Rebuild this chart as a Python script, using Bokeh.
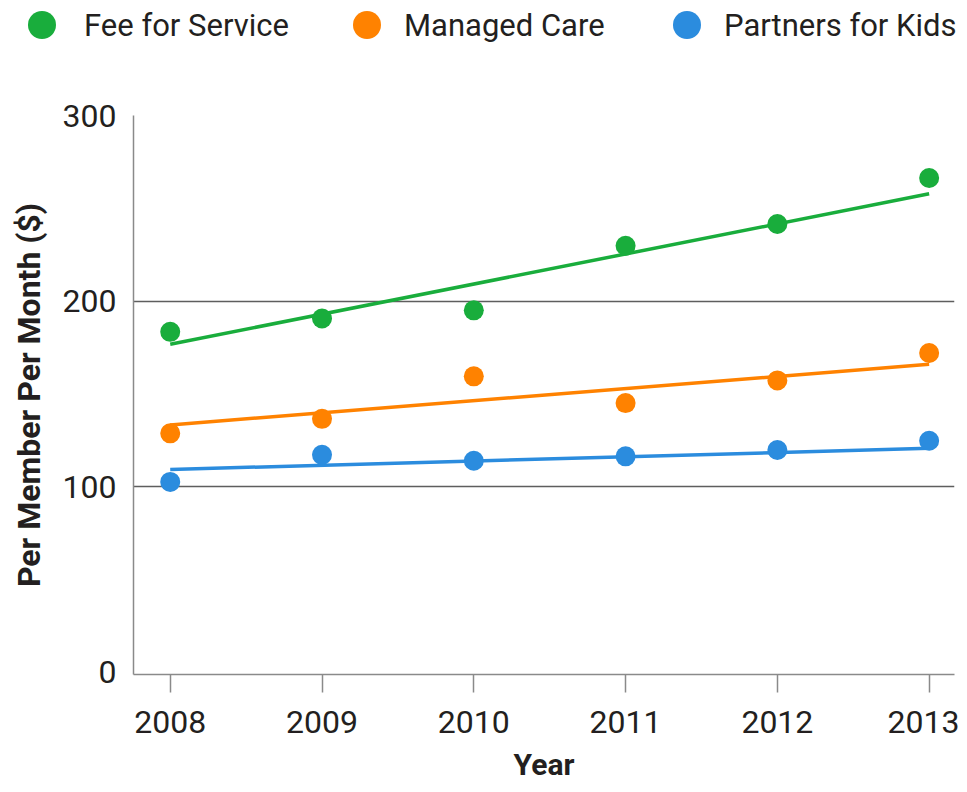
from bokeh.plotting import figure
from bokeh.models import Range1d, FixedTicker, Div
from bokeh.layouts import column
from bokeh.embed import file_html
from bokeh.resources import INLINE

years = [2008, 2009, 2010, 2011, 2012, 2013]
fee_for_service = [183.4, 190.6, 195.0, 229.8, 241.5, 266.3]
managed_care = [128.7, 136.5, 159.4, 145.0, 157.2, 172.0]
partners_for_kids = [102.5, 117.1, 113.9, 116.3, 119.7, 124.7]

trend_years = [2008, 2013]
fee_trend = [176.7, 257.8]
managed_trend = [133.2, 165.9]
partners_trend = [109.2, 120.6]

series_names = ["Fee for Service", "Managed Care", "Partners for Kids"]
colors = ["#19AD3C", "#FF8200", "#2B8CDE"]
y_ticks = [0, 100, 200, 300]
series = [fee_for_service, managed_care, partners_for_kids]

FONT = "Roboto"
TEXT = "#231F20"
W = 959

# ---- legend strip (HTML) ----
LEG_H = 60
marker_centers = [42, 367, 687]   # layout positions of legend markers (px)
label_lefts = [84, 404, 724]      # layout positions of legend labels (px)
items_html = ""
for name, col, cx, lx in zip(series_names, colors, marker_centers, label_lefts):
    items_html += (
        f'<span style="position:absolute;left:{cx - 14}px;top:11px;width:28px;height:28px;'
        f'border-radius:50%;background:{col};"></span>'
        f'<span style="position:absolute;left:{lx}px;top:25px;transform:translateY(-50%);'
        f'line-height:1;white-space:nowrap;">{name}</span>'
    )
legend_div = Div(
    text=(f'<div style="position:relative;width:{W}px;height:{LEG_H}px;font-family:Roboto;'
          f'font-size:31px;color:{TEXT};">{items_html}</div>'),
    width=W, height=LEG_H, margin=0)

# ---- main chart ----
p = figure(width=W, height=724, output_backend="svg", toolbar_location=None,
           x_range=Range1d(2007.758, 2013.167), y_range=Range1d(-1.3, 300),
           min_border_left=133, min_border_right=5, min_border_top=55,
           min_border_bottom=110)
p.outline_line_color = None
p.background_fill_color = "white"

for vals, trend, col in zip(series, [fee_trend, managed_trend, partners_trend], colors):
    p.line(trend_years, trend, line_color=col, line_width=3.5)
    p.scatter(years, vals, size=20, fill_color=col, line_color=None)

p.xaxis.ticker = FixedTicker(ticks=years)
p.xaxis.major_tick_out = 18
p.xaxis.major_tick_in = 0
p.xaxis.minor_tick_line_color = None
p.xaxis.axis_line_color = "#8A8A8A"
p.xaxis.axis_line_width = 1.5
p.xaxis.major_tick_line_color = "#8A8A8A"
p.xaxis.major_tick_line_width = 1.5
p.xaxis.major_label_text_font = FONT
p.xaxis.major_label_text_font_size = "32px"
p.xaxis.major_label_text_color = TEXT
p.xaxis.major_label_standoff = 18
p.xaxis.axis_label = "Year"
p.xaxis.axis_label_text_font = FONT
p.xaxis.axis_label_text_font_size = "30px"
p.xaxis.axis_label_text_font_style = "bold"
p.xaxis.axis_label_text_color = TEXT
p.xaxis.axis_label_standoff = 11

p.yaxis.ticker = FixedTicker(ticks=y_ticks)
p.yaxis.major_tick_out = 0
p.yaxis.major_tick_in = 0
p.yaxis.minor_tick_line_color = None
p.yaxis.axis_line_color = "#8A8A8A"
p.yaxis.axis_line_width = 1.5
p.yaxis.major_label_text_font = FONT
p.yaxis.major_label_text_font_size = "32px"
p.yaxis.major_label_text_color = TEXT
p.yaxis.major_label_standoff = 17
p.yaxis.axis_label = "Per Member Per Month ($)"
p.yaxis.axis_label_text_font = FONT
p.yaxis.axis_label_text_font_size = "32px"
p.yaxis.axis_label_text_font_style = "bold"
p.yaxis.axis_label_text_color = TEXT
p.yaxis.axis_label_standoff = 12

p.xgrid.grid_line_color = None
p.ygrid.ticker = FixedTicker(ticks=[100, 200, 300])
p.ygrid.grid_line_color = "#5E5E5E"
p.ygrid.grid_line_width = 1.3

layout = column(legend_div, p, spacing=0)
open("out.html", "w").write(file_html(layout, INLINE))
